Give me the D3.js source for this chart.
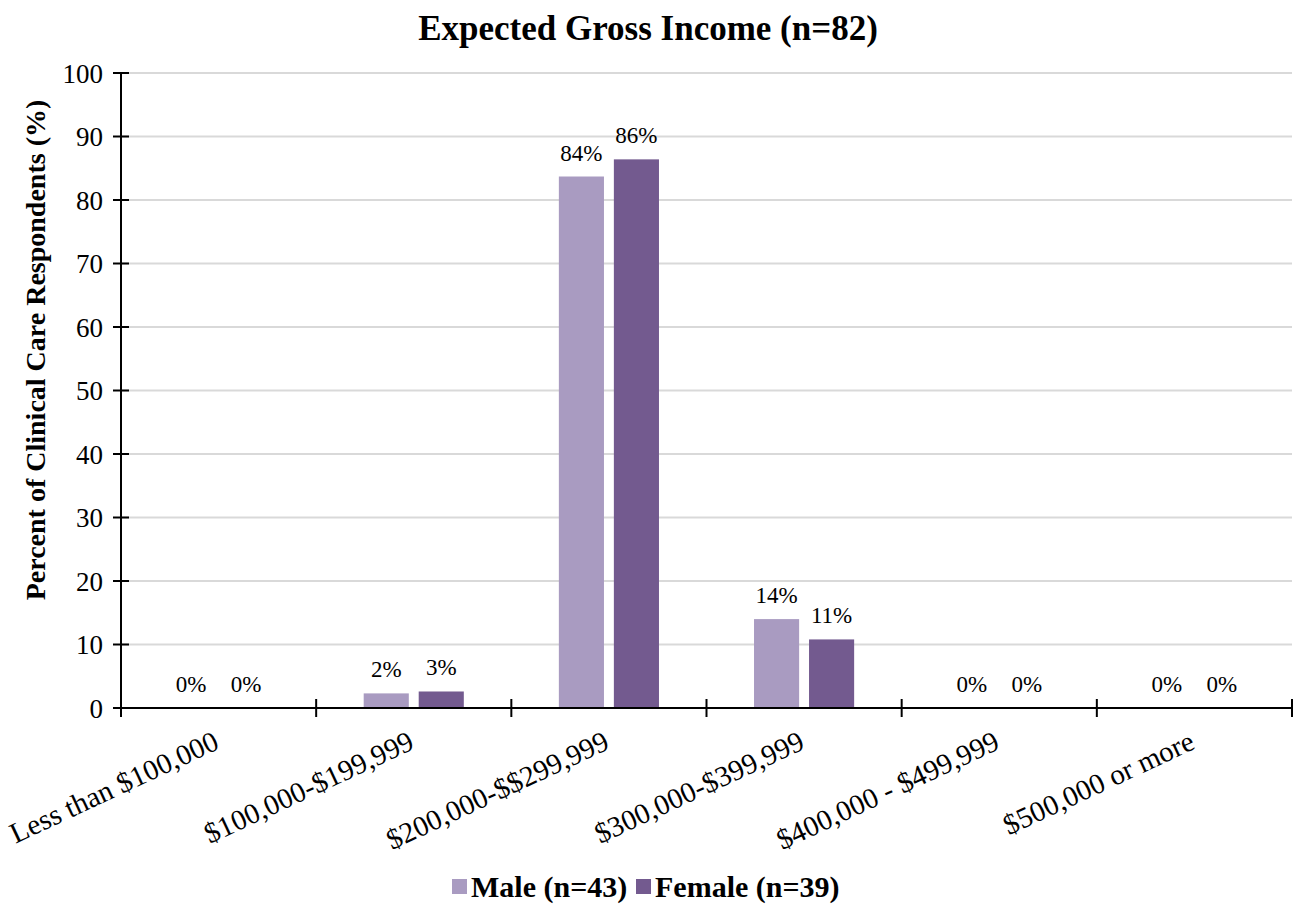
<!DOCTYPE html>
<html>
<head>
<meta charset="utf-8">
<script src="https://cdn.jsdelivr.net/npm/d3@7/dist/d3.min.js"></script>
<style>
  html, body { margin: 0; padding: 0; background: #fff; }
  svg { display: block; }
  svg text { font-family: "Liberation Serif", "Times New Roman", serif; fill: #000; }
</style>
</head>
<body>
<svg id="chart" width="1294" height="915"></svg>
<script>
// Income brackets and percentage of respondents in each, by gender
const categories = [
  "Less than $100,000",
  "$100,000-$199,999",
  "$200,000-$$299,999",
  "$300,000-$399,999",
  "$400,000 - $499,999",
  "$500,000 or more"
];
const seriesNames = ["Male (n=43)", "Female (n=39)"];
const maleValues = [0, 2.3, 83.7, 14.0, 0, 0];
const femaleValues = [0, 2.6, 86.4, 10.8, 0, 0];
const seriesColors = ["#a99bc1", "#735a8f"];
const yTicks = [0, 10, 20, 30, 40, 50, 60, 70, 80, 90, 100];
const titleText = "Expected Gross Income (n=82)";
const yTitleText = "Percent of Clinical Care Respondents (%)";

const seriesValues = [maleValues, femaleValues];

const svg = d3.select("#chart");
const W = 1294, H = 915;
const margin = { left: 121, right: 2, top: 73, bottom: 207 };
const plotL = margin.left, plotR = W - margin.right;
const plotT = margin.top, plotB = H - margin.bottom;

const x0 = d3.scaleBand().domain(categories).range([plotL, plotR])
  .paddingInner(0.487).paddingOuter(0.2435);
const x1 = d3.scaleBand().domain(seriesNames).range([0, x0.bandwidth()])
  .paddingInner(0.18);
const y = d3.scaleLinear().domain([0, 100]).range([plotB, plotT]);

// Horizontal gridlines
svg.append("g").selectAll("line")
  .data(yTicks.filter(d => d > 0))
  .join("line")
  .attr("x1", plotL).attr("x2", plotR)
  .attr("y1", d => y(d)).attr("y2", d => y(d))
  .attr("stroke", "#d9d9d9").attr("stroke-width", 2);

// Bars
const groups = svg.append("g").selectAll("g")
  .data(categories)
  .join("g")
  .attr("transform", d => `translate(${x0(d)},0)`);

const cells = (d, i) => seriesNames.map((s, j) => ({ s, v: seriesValues[j][i], j }));

groups.selectAll("rect")
  .data(cells)
  .join("rect")
  .attr("x", d => x1(d.s))
  .attr("width", x1.bandwidth())
  .attr("y", d => y(d.v))
  .attr("height", d => plotB - y(d.v))
  .attr("fill", d => seriesColors[d.j]);

// Data labels
groups.selectAll("text")
  .data(cells)
  .join("text")
  .attr("x", d => x1(d.s) + x1.bandwidth() / 2)
  .attr("y", d => y(d.v) - 16)
  .attr("text-anchor", "middle")
  .attr("font-size", 23)
  .text(d => Math.round(d.v) + "%");

// Y axis
const yAxis = svg.append("g")
  .attr("transform", `translate(${plotL},0)`)
  .call(d3.axisLeft(y).tickValues(yTicks).tickSize(0).tickPadding(18));
yAxis.attr("font-family", null).attr("font-size", null);
yAxis.select(".domain").remove();
yAxis.selectAll("text").attr("font-size", 27).attr("dy", "0.34em");
yAxis.append("line")
  .attr("x1", 0).attr("x2", 0).attr("y1", plotT).attr("y2", plotB)
  .attr("stroke", "#000").attr("stroke-width", 2);
yAxis.selectAll(".tickmark")
  .data(yTicks).join("line").attr("class", "tickmark")
  .attr("x1", -8).attr("x2", 8)
  .attr("y1", d => y(d)).attr("y2", d => y(d))
  .attr("stroke", "#000").attr("stroke-width", 2);

// X axis
const xAxis = svg.append("g");
xAxis.append("line")
  .attr("x1", plotL).attr("x2", plotR).attr("y1", plotB).attr("y2", plotB)
  .attr("stroke", "#000").attr("stroke-width", 2);
const boundaries = categories.map(c => x0(c) - x0.step() * x0.paddingOuter())
  .concat([plotR]);
xAxis.selectAll(".tickmark")
  .data(boundaries).join("line").attr("class", "tickmark")
  .attr("x1", d => d).attr("x2", d => d)
  .attr("y1", plotB - 9).attr("y2", plotB + 9)
  .attr("stroke", "#000").attr("stroke-width", 2);
xAxis.selectAll("text")
  .data(categories).join("text")
  .attr("transform", d => `translate(${x0(d) + x0.bandwidth() / 2 + 2},${plotB + 40}) rotate(-25)`)
  .attr("text-anchor", "end")
  .attr("font-size", 29)
  .text(d => d);

// Title
svg.append("text")
  .attr("x", 648).attr("y", 40)
  .attr("text-anchor", "middle")
  .attr("font-size", 35).attr("font-weight", "bold")
  .text(titleText);

// Y axis title
svg.append("text")
  .attr("transform", `translate(45,350) rotate(-90)`)
  .attr("text-anchor", "middle")
  .attr("font-size", 28).attr("font-weight", "bold")
  .text(yTitleText);

// Legend
const legend = svg.append("g");
const legendX = [452, 636];
seriesNames.forEach((s, j) => {
  legend.append("rect")
    .attr("x", legendX[j]).attr("y", 879)
    .attr("width", 15).attr("height", 15)
    .attr("fill", seriesColors[j]);
  legend.append("text")
    .attr("x", legendX[j] + 19).attr("y", 897)
    .attr("font-size", 30).attr("font-weight", "bold")
    .text(s);
});
</script>
</body>
</html>
